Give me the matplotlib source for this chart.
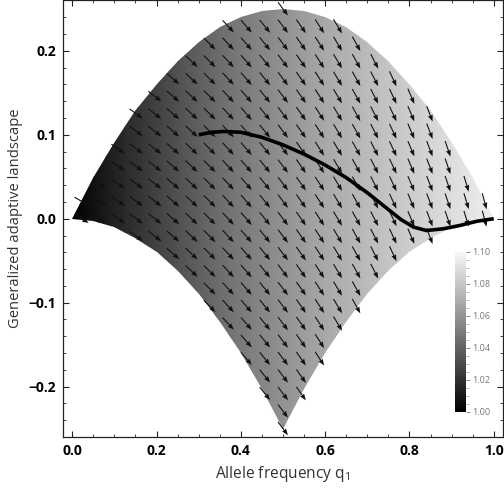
import numpy as np
import matplotlib
matplotlib.use('Agg')
import matplotlib.pyplot as plt
from matplotlib.colors import LinearSegmentedColormap
from matplotlib.patches import Polygon
from matplotlib.ticker import MultipleLocator, FuncFormatter

plt.rcParams['font.family'] = ['Open Sans', 'DejaVu Sans']
plt.rcParams['mathtext.fontset'] = 'custom'
plt.rcParams['mathtext.rm'] = 'Open Sans'

# boundaries of the shaded region
edge_q = [0.00, 0.05, 0.10, 0.15, 0.20, 0.25, 0.30, 0.35, 0.40, 0.45, 0.50,
          0.55, 0.60, 0.65, 0.70, 0.75, 0.80, 0.85, 0.90, 0.95, 1.00]
upper = [0.000, 0.048, 0.090, 0.128, 0.160, 0.188, 0.210, 0.228, 0.240, 0.248, 0.250,
         0.248, 0.240, 0.228, 0.210, 0.188, 0.160, 0.128, 0.090, 0.048, 0.000]
lower = [0.000, -0.0025, -0.010, -0.0225, -0.040, -0.0625, -0.090, -0.1225, -0.160, -0.2025, -0.250,
         -0.2025, -0.160, -0.1225, -0.090, -0.0625, -0.040, -0.0225, -0.010, -0.0025, 0.000]

# shading value along q (colour bar units)
shade_q = [0.0, 0.125, 0.25, 0.375, 0.5, 0.625, 0.75, 0.875, 1.0]
shade_val = [1.000, 1.017, 1.033, 1.047, 1.059, 1.070, 1.079, 1.088, 1.096]

# vector field grid and arrow angles (degrees below horizontal) per column
col_q = [0.022, 0.065, 0.109, 0.152, 0.196, 0.239, 0.283, 0.326, 0.370, 0.413, 0.457, 0.500,
         0.543, 0.587, 0.630, 0.674, 0.717, 0.761, 0.804, 0.848, 0.891, 0.935, 0.978]
row_y = [k / 48 for k in range(-12, 13)]
col_angle = [30, 32, 34, 36, 38, 41, 43, 45, 47, 49, 51, 53,
             55, 57, 59, 61, 63, 65, 67, 69, 71, 73, 75]

# trajectory
curve_q = [0.30, 0.33, 0.36, 0.40, 0.45, 0.50, 0.55, 0.60, 0.65, 0.70, 0.75,
           0.78, 0.81, 0.84, 0.88, 0.92, 0.96, 1.00]
curve_y = [0.100, 0.103, 0.104, 0.103, 0.097, 0.088, 0.077, 0.064, 0.049, 0.031, 0.011,
           -0.001, -0.010, -0.014, -0.012, -0.008, -0.003, 0.000]

fig = plt.figure(figsize=(5.04, 4.88), dpi=100)
ax = fig.add_axes([0.125, 0.1045, 0.873, 0.8945])

cmap = LinearSegmentedColormap.from_list('gt', [(0, 0, 0), (0.97, 0.97, 0.97)])

verts = list(zip(edge_q, upper)) + list(zip(edge_q[::-1], lower[::-1]))
region = Polygon(verts, closed=True, facecolor='none', edgecolor='none')
ax.add_patch(region)

X, Y = np.meshgrid(shade_q, [-0.26, 0.26])
C = np.tile(shade_val, (2, 1))
mesh = ax.pcolormesh(X, Y, C, shading='gouraud', cmap=cmap, vmin=1.0, vmax=1.1, zorder=1)
mesh.set_clip_path(region)

# arrows only where grid point lies inside the region
Q, Yg = np.meshgrid(col_q, row_y)
up = np.interp(col_q, edge_q, upper)
lo = np.interp(col_q, edge_q, lower)
inside = (Yg <= up + 1e-3) & (Yg >= lo - 1e-3)
ang = np.radians(np.array(col_angle, dtype=float))
U = np.tile(np.cos(ang), (len(row_y), 1))
V = np.tile(-np.sin(ang), (len(row_y), 1))
ax.quiver(Q[inside], Yg[inside], U[inside], V[inside], angles='uv', pivot='middle',
          scale_units='inches', scale=1 / 0.165, width=0.0025, headwidth=4.5,
          headlength=6, headaxislength=5.5, color='#111111', zorder=3)

ax.plot(curve_q, curve_y, color='black', lw=2.6, solid_capstyle='butt', zorder=4)

ax.set_xlim(-0.022, 1.022)
ax.set_ylim(-0.26, 0.26)
ax.xaxis.set_major_locator(MultipleLocator(0.2))
ax.xaxis.set_minor_locator(MultipleLocator(0.05))
ax.yaxis.set_major_locator(MultipleLocator(0.1))
ax.yaxis.set_minor_locator(MultipleLocator(0.02))
ax.xaxis.set_major_formatter(FuncFormatter(lambda v, p: '%.1f' % v))
ax.yaxis.set_major_formatter(FuncFormatter(lambda v, p: ('%.1f' % v).replace('-', '\u2212')))
ax.tick_params(which='both', direction='in', top=True, right=True, color='#222222')
ax.tick_params(which='major', length=4.5, width=0.8, labelsize=10, pad=5)
ax.tick_params(which='minor', length=2.5, width=0.6)
for lab in ax.get_xticklabels() + ax.get_yticklabels():
    lab.set_fontweight('bold')
for s in ax.spines.values():
    s.set_linewidth(0.9)
    s.set_color('#222222')

ax.set_xlabel(r'Allele frequency q$_\mathregular{1}$', fontsize=11.2, color='#333333', labelpad=4)
ax.set_ylabel('Generalized adaptive landscape', fontsize=10.6, color='#333333', labelpad=4)

cax = fig.add_axes([0.903, 0.156, 0.022, 0.328])
cb = fig.colorbar(mesh, cax=cax)
cb.outline.set_visible(False)
cb.set_ticks([1.00, 1.02, 1.04, 1.06, 1.08, 1.10])
cb.ax.yaxis.set_major_formatter(FuncFormatter(lambda v, p: '%.2f' % v))
cb.ax.yaxis.set_minor_locator(MultipleLocator(0.005))
cax.tick_params(which='major', labelsize=6.5, colors='#777777', length=3, width=0.6, pad=1.5)
cax.tick_params(which='minor', colors='#999999', length=2, width=0.5)

fig.savefig('out.png', dpi=100)
